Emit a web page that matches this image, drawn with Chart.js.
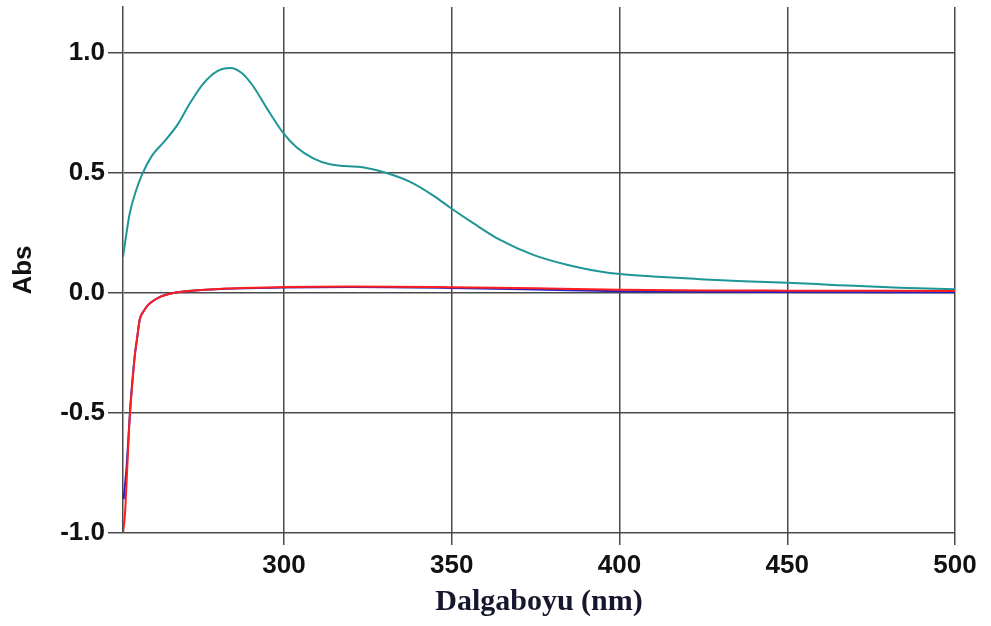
<!DOCTYPE html>
<html>
<head>
<meta charset="utf-8">
<script src="https://cdn.jsdelivr.net/npm/chart.js@4.4.1/dist/chart.umd.min.js"></script>
<style>
  html, body { margin: 0; padding: 0; background: #fff; }
  #wrap { width: 991px; height: 626px; }
</style>
</head>
<body>
<div id="wrap"><canvas id="absChart" width="991" height="626"></canvas></div>
<script>
'use strict';

// teal spectrum (sample)
var tealNm  = [252, 254, 256, 257.6, 260.6, 264, 268, 272, 276, 280, 284, 287.4, 290.8, 294.8, 299.8, 303.8, 308.7, 313.7, 318, 324.6, 330.6, 337.6, 344.5, 350, 356.4, 364.4, 374.3, 384.3, 394.2, 400.2, 410, 424, 437, 450, 465, 483.6, 500];
var tealAbs = [0.15, 0.33, 0.43, 0.49, 0.57, 0.625, 0.695, 0.79, 0.872, 0.922, 0.936, 0.915, 0.86, 0.77, 0.665, 0.605, 0.56, 0.535, 0.528, 0.52, 0.499, 0.462, 0.405, 0.35, 0.29, 0.22, 0.158, 0.117, 0.089, 0.078, 0.068, 0.057, 0.048, 0.042, 0.032, 0.021, 0.015];

// red baseline
var redNm  = [252, 252.6, 253.1, 253.8, 254.1, 254.9, 255.6, 256.1, 257, 258, 259.5, 263, 266, 270, 283, 300, 320, 350, 375, 400, 425, 450, 500];
var redAbs = [-1.0, -0.92, -0.78, -0.57, -0.5, -0.36, -0.25, -0.2, -0.11, -0.08, -0.05, -0.017, -0.004, 0.005, 0.018, 0.024, 0.026, 0.023, 0.019, 0.013, 0.01, 0.009, 0.008];

// blue baseline (runs just under the red one)
var blueNm  = [252.2, 252.6, 253.1, 253.8, 254.1, 254.9, 255.6, 256.1, 257, 258, 259.5, 263, 266, 270, 283, 300, 320, 350, 375, 400, 425, 450, 500];
var blueAbs = [-0.86, -0.8, -0.72, -0.56, -0.49, -0.35, -0.25, -0.2, -0.11, -0.08, -0.05, -0.017, -0.004, 0.005, 0.017, 0.022, 0.024, 0.02, 0.014, 0.007, 0.004, 0.003, 0.002];

var xTicks = [300, 350, 400, 450, 500];
var yTicks = [-1.0, -0.5, 0.0, 0.5, 1.0];

function pts(xs, ys) {
  var out = [];
  for (var i = 0; i < xs.length; i++) out.push({ x: xs[i], y: ys[i] });
  return out;
}

var gridColor = '#4a4a4a';
var tickFont = { family: 'Liberation Sans, Arial, sans-serif', size: 26, weight: 'bold' };

var ctx = document.getElementById('absChart').getContext('2d');
var absChart = new Chart(ctx, {
  type: 'line',
  data: {
    datasets: [
      { data: pts(redNm, redAbs), borderColor: '#ff1e1e', borderWidth: 2, order: 1 },
      { data: pts(blueNm, blueAbs), borderColor: '#2222c8', borderWidth: 2, order: 2 },
      { data: pts(tealNm, tealAbs), borderColor: '#1f9696', borderWidth: 2, order: 3 }
    ]
  },
  options: {
    responsive: false,
    animation: false,
    layout: { padding: { top: 7, right: 36, left: 0, bottom: 0 } },
    elements: {
      point: { radius: 0 },
      line: { cubicInterpolationMode: 'monotone', fill: false }
    },
    plugins: { legend: { display: false }, tooltip: { enabled: false } },
    scales: {
      x: {
        type: 'linear',
        min: 252,
        max: 500,
        afterBuildTicks: function (s) { s.ticks = xTicks.map(function (v) { return { value: v }; }); },
        afterFit: function (s) { s.height = 93; s.paddingLeft = 0; s.paddingRight = 0; },
        grid: { color: gridColor, lineWidth: 1.5, tickLength: 12 },
        border: { display: false },
        ticks: {
          color: '#111',
          padding: 5,
          maxRotation: 0,
          font: tickFont
        },
        title: {
          display: true,
          text: 'Dalgaboyu (nm)',
          color: '#16162e',
          padding: { top: 0, bottom: 6 },
          font: { family: 'Liberation Serif, Times New Roman, serif', size: 30, weight: 'bold' }
        }
      },
      y: {
        min: -1.0,
        max: 1.19,
        afterBuildTicks: function (s) { s.ticks = yTicks.map(function (v) { return { value: v }; }); },
        afterFit: function (s) { s.width = 123; s.paddingTop = 0; s.paddingBottom = 0; },
        grid: { color: gridColor, lineWidth: 1.5, tickLength: 15 },
        border: { display: true, color: gridColor, width: 1.5 },
        ticks: {
          color: '#111',
          padding: 3,
          callback: function (v) { return v.toFixed(1); },
          font: tickFont
        },
        title: {
          display: true,
          text: 'Abs',
          color: '#111',
          padding: { top: 8, bottom: 0 },
          font: { family: 'Liberation Sans, Arial, sans-serif', size: 26, weight: 'bold' }
        }
      }
    }
  }
});
</script>
</body>
</html>
